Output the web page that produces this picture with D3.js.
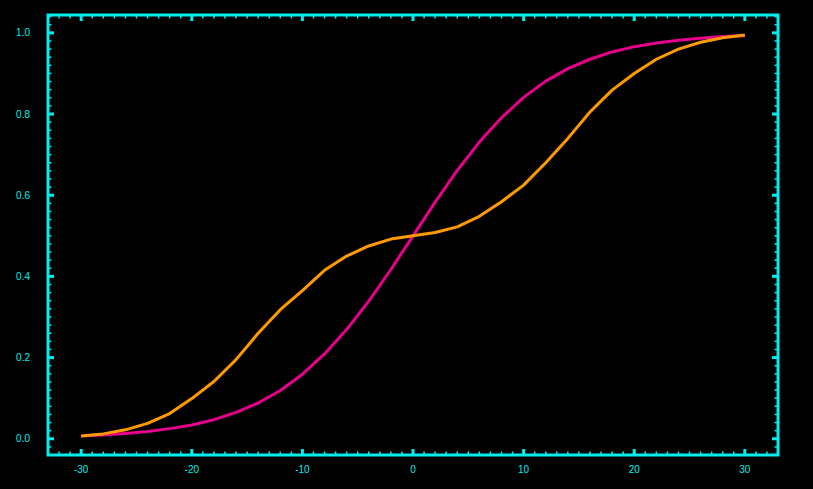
<!DOCTYPE html>
<html>
<head>
<meta charset="utf-8">
<script src="https://cdn.jsdelivr.net/npm/d3@7"></script>
<style>
  html, body { margin: 0; padding: 0; background: #000; }
  svg { display: block; }
</style>
</head>
<body>
<svg id="chart" width="813" height="489"></svg>
<script>
// ---- data ----
const xValues = [-30,-28,-26,-24,-22,-20,-18,-16,-14,-12,-10,-8,-6,-4,-2,0,2,4,6,8,10,12,14,16,18,20,22,24,26,28,30];
const magentaValues = [0.007,0.009,0.013,0.018,0.025,0.034,0.047,0.065,0.088,0.119,0.159,0.209,0.269,0.339,0.417,0.5,0.583,0.661,0.731,0.791,0.841,0.881,0.912,0.935,0.953,0.966,0.975,0.982,0.987,0.991,0.993];
const orangeValues = [0.007,0.012,0.022,0.038,0.062,0.099,0.141,0.195,0.26,0.318,0.365,0.415,0.45,0.475,0.492,0.5,0.508,0.522,0.548,0.584,0.625,0.68,0.74,0.805,0.859,0.9,0.935,0.96,0.977,0.988,0.995];
const xTickLabels = [-30,-20,-10,0,10,20,30];
const yTickLabels = ["0.0","0.2","0.4","0.6","0.8","1.0"];

(function () {
const svg = d3.select("#chart");
const cyan = "#00eeee";
const pLeft = 48, pRight = 778, pTop = 15, pBottom = 455;

const x = d3.scaleLinear().domain([-33, 33]).range([pLeft, pRight]);
const y = d3.scaleLinear().domain([-0.04, 1.044]).range([pBottom, pTop]);

svg.append("rect").attr("width", 813).attr("height", 489).attr("fill", "#000");

// minor & major ticks on all four sides
const xMinor = d3.range(-33, 34, 1);
const yMinor = d3.range(-0.04, 1.045, 0.02).map(v => Math.round(v * 100) / 100);
const g = svg.append("g").attr("stroke", cyan);

xMinor.forEach(v => {
  const major = xTickLabels.includes(v);
  const len = major ? 6 : 3.5;
  const w = major ? 3 : 1.5;
  g.append("line").attr("x1", x(v)).attr("x2", x(v)).attr("y1", pBottom).attr("y2", pBottom - len).attr("stroke-width", w);
  g.append("line").attr("x1", x(v)).attr("x2", x(v)).attr("y1", pTop).attr("y2", pTop + len).attr("stroke-width", w);
});
yMinor.forEach(v => {
  const major = yTickLabels.map(Number).some(t => Math.abs(t - v) < 1e-6);
  const len = major ? 6 : 3.5;
  const w = major ? 3 : 1.5;
  g.append("line").attr("y1", y(v)).attr("y2", y(v)).attr("x1", pLeft).attr("x2", pLeft + len).attr("stroke-width", w);
  g.append("line").attr("y1", y(v)).attr("y2", y(v)).attr("x1", pRight).attr("x2", pRight - len).attr("stroke-width", w);
});

// frame
svg.append("rect")
  .attr("x", pLeft).attr("y", pTop)
  .attr("width", pRight - pLeft).attr("height", pBottom - pTop)
  .attr("fill", "none").attr("stroke", cyan).attr("stroke-width", 3);

// tick labels
svg.append("g").selectAll("text").data(xTickLabels).join("text")
  .attr("x", d => x(d)).attr("y", 473)
  .attr("text-anchor", "middle")
  .attr("fill", cyan)
  .attr("font-family", "Liberation Sans, Arial, sans-serif")
  .attr("font-size", 10)
  .text(d => d);

svg.append("g").selectAll("text").data(yTickLabels).join("text")
  .attr("x", 30).attr("y", d => y(+d) + 3.5)
  .attr("text-anchor", "end")
  .attr("fill", cyan)
  .attr("font-family", "Liberation Sans, Arial, sans-serif")
  .attr("font-size", 10)
  .text(d => d);

// curves
const line = d3.line().x(d => x(d[0])).y(d => y(d[1]));
const orangeData = xValues.map((v, i) => [v, orangeValues[i]]);
const magentaData = xValues.map((v, i) => [v, magentaValues[i]]);

svg.append("path").datum(magentaData)
  .attr("d", line).attr("fill", "none")
  .attr("stroke", "#e6008c").attr("stroke-width", 3)
  .attr("stroke-linejoin", "round");

svg.append("path").datum(orangeData)
  .attr("d", line).attr("fill", "none")
  .attr("stroke", "#ff9a00").attr("stroke-width", 3)
  .attr("stroke-linejoin", "round");
})();
</script>
</body>
</html>
